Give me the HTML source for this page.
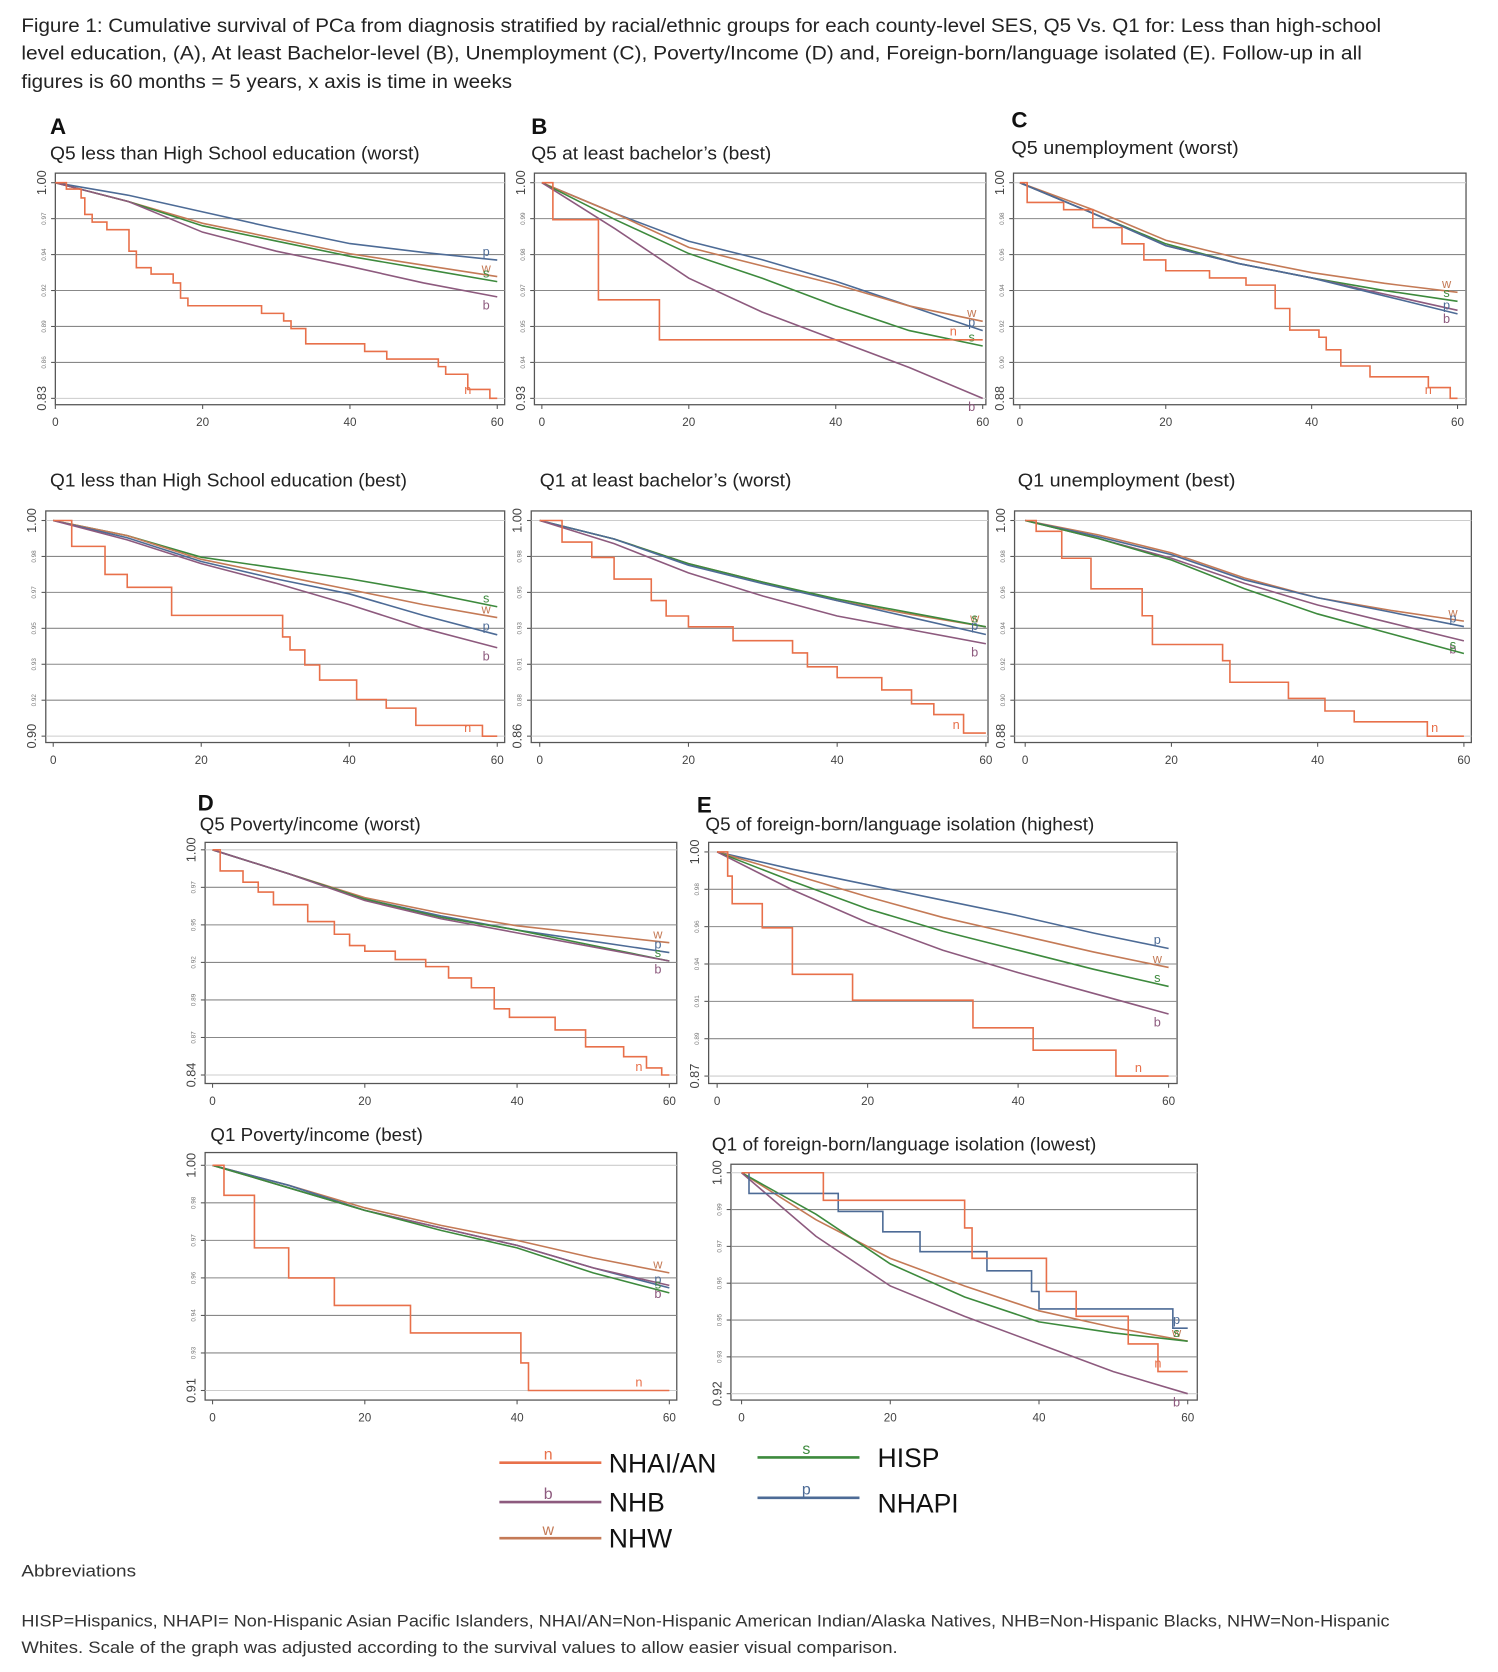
<!DOCTYPE html>
<html><head><meta charset="utf-8"><style>
html,body{margin:0;padding:0;background:#fff;}
svg{display:block;font-family:"Liberation Sans",sans-serif;}
</style></head><body>
<svg id="fig" width="1498" height="1672" viewBox="0 0 1410 1574" xmlns="http://www.w3.org/2000/svg">
<g fill="#222">
<text x="20" y="30" font-size="18" textLength="1280" lengthAdjust="spacingAndGlyphs">Figure 1: Cumulative survival of PCa from diagnosis stratified by racial/ethnic groups for each county-level SES, Q5 Vs. Q1 for: Less than high-school</text>
<text x="20" y="56" font-size="18" textLength="1262" lengthAdjust="spacingAndGlyphs">level education, (A), At least Bachelor-level (B), Unemployment (C), Poverty/Income (D) and, Foreign-born/language isolated (E). Follow-up in all</text>
<text x="20" y="83" font-size="18" textLength="462" lengthAdjust="spacingAndGlyphs">figures is 60 months = 5 years, x axis is time in weeks</text>
</g>
<g id="panels"></g>
<g id="legend"></g>
<g fill="#333">
<text x="20" y="1484" font-size="16" textLength="108" lengthAdjust="spacingAndGlyphs">Abbreviations</text>
<text x="20" y="1531" font-size="16" textLength="1288" lengthAdjust="spacingAndGlyphs">HISP=Hispanics, NHAPI= Non-Hispanic Asian Pacific Islanders, NHAI/AN=Non-Hispanic American Indian/Alaska Natives, NHB=Non-Hispanic Blacks, NHW=Non-Hispanic</text>
<text x="20" y="1556" font-size="16" textLength="825" lengthAdjust="spacingAndGlyphs">Whites. Scale of the graph was adjusted according to the survival values to allow easier visual comparison.</text>
</g>
</svg>
<script>
const WEEKS = [0,10,20,30,40,50,60];
const X_TICKS = [0,20,40,60];
// A1
const A1_p=[1,.99,.977,.964,.952,.945,.939], A1_w=[1,.985,.968,.956,.944,.935,.926], A1_s=[1,.985,.966,.954,.942,.932,.922], A1_b=[1,.985,.961,.946,.934,.921,.910];
const A1_nT=[0,1.5,3.5,4,5,7,10,11,13,16,17,18,28,31,32,34,42,45,52,53,56,59,60];
const A1_nV=[1,.995,.988,.975,.969,.963,.946,.933,.928,.921,.909,.903,.897,.891,.885,.873,.867,.861,.855,.849,.837,.83,.83];
// B1
const B1_p=[1,.99,.981,.975,.968,.960,.952], B1_w=[1,.99,.979,.973,.967,.960,.955], B1_s=[1,.988,.977,.969,.960,.952,.947], B1_b=[1,.985,.969,.958,.949,.940,.930];
const B1_nT=[0,1.5,7.7,16,60], B1_nV=[1,.988,.962,.949,.949];
// C1
const C1_w=[1,.985,.968,.958,.950,.944,.939], C1_s=[1,.983,.966,.955,.947,.940,.934], C1_b=[1,.983,.965,.955,.947,.938,.929], C1_p=[1,.983,.965,.955,.947,.937,.927];
const C1_nT=[0,1,6,10,14,17,20,26,31,35,37,41,42,44,48,56,59,60];
const C1_nV=[1,.989,.985,.975,.966,.957,.951,.947,.943,.930,.918,.914,.907,.898,.892,.886,.880,.880];
// A2
const A2_s=[1,.993,.983,.978,.973,.967,.960], A2_w=[1,.993,.982,.975,.968,.961,.955], A2_p=[1,.992,.981,.973,.966,.956,.947], A2_b=[1,.991,.980,.971,.961,.950,.941];
const A2_nT=[0,2.5,7,10,16,31,32,34,36,41,45,49,58,60];
const A2_nV=[1,.988,.975,.969,.956,.946,.940,.933,.926,.917,.913,.905,.900,.900];
// B2
const B2_w=[1,.988,.972,.960,.948,.939,.931], B2_s=[1,.988,.972,.960,.949,.940,.931], B2_p=[1,.988,.971,.959,.948,.937,.926], B2_b=[1,.985,.966,.951,.938,.929,.920];
const B2_nT=[0,3,7,10,15,17,20,26,34,36,40,46,50,53,57,60];
const B2_nV=[1,.986,.976,.962,.948,.938,.931,.922,.914,.905,.898,.890,.881,.874,.862,.862];
// C2
const C2_w=[1,.992,.982,.968,.957,.950,.944], C2_p=[1,.991,.981,.967,.957,.949,.941], C2_b=[1,.99,.979,.965,.953,.943,.933], C2_s=[1,.99,.978,.962,.948,.937,.926];
const C2_nT=[0,1.5,5,9,16,17.4,27,28,36,41,45,55,60];
const C2_nV=[1,.994,.979,.962,.947,.931,.922,.910,.901,.894,.888,.880,.880];
// D1
const D1_w=[1,.983,.966,.955,.946,.940,.934], D1_p=[1,.983,.965,.953,.943,.935,.927], D1_s=[1,.983,.965,.952,.943,.932,.921], D1_b=[1,.983,.964,.951,.941,.931,.921];
const D1_nT=[0,1,4,6,8,12.5,16,18,20,24,28,31,34,37,39,45,49,54,57,59,60];
const D1_nV=[1,.985,.977,.970,.961,.949,.940,.932,.928,.922,.917,.909,.902,.887,.881,.872,.860,.853,.845,.840,.840];
// E1
const E1_p=[1,.99,.981,.972,.963,.953,.944], E1_w=[1,.987,.974,.962,.952,.942,.933], E1_s=[1,.983,.967,.954,.943,.932,.922], E1_b=[1,.978,.959,.943,.930,.918,.906];
const E1_nT=[0,1.4,2,6,10,18,34,42,53,60], E1_nV=[1,.986,.970,.956,.929,.914,.898,.885,.870,.870];
// D2
const D2_w=[1,.992,.983,.976,.970,.963,.957], D2_p=[1,.992,.982,.975,.968,.959,.951], D2_b=[1,.991,.982,.975,.968,.959,.952], D2_s=[1,.991,.982,.974,.967,.957,.949];
const D2_nT=[0,1.5,5.5,10,16,26,40.5,41.5,60], D2_nV=[1,.988,.967,.955,.944,.933,.921,.910,.910];
// E2
const E2_w=[1,.983,.969,.959,.950,.944,.939], E2_s=[1,.985,.967,.955,.946,.942,.939], E2_b=[1,.977,.959,.948,.938,.928,.920];
const E2_pT=[0,1,13,19,24,33,39,40,58,60], E2_pV=[1,.9925,.986,.9786,.9714,.9645,.957,.9507,.9437,.9437];
const E2_nT=[0,11,30,31,41,45,52,56,60], E2_nV=[1,.990,.980,.969,.957,.948,.938,.928,.928];

const COLORS={n:'#e8704a',b:'#8d5a7e',w:'#c47a56',s:'#3d8a3d',p:'#4d6b96'};
const NS='http://www.w3.org/2000/svg';
function mk(tag,attrs,parent){const e=document.createElementNS(NS,tag);for(const k in attrs)e.setAttribute(k,attrs[k]);parent.appendChild(e);return e;}

const panels=[
 {id:'a1',letter:'A',lx:47,ly:126,title:'Q5 less than High School education (worst)',tx:47,ty:150,tw:348,box:[52,163,475,381],x0:52,x1:468,yt:172,yb:375,ymin:.83,
  series:[['p',A1_p],['w',A1_w],['s',A1_s],['b',A1_b],['n',A1_nV,A1_nT]]},
 {id:'b1',letter:'B',lx:500,ly:126,title:'Q5 at least bachelor’s (best)',tx:500,ty:150,tw:226,box:[503,163,928,381],x0:510,x1:925,yt:172,yb:375,ymin:.93,
  series:[['p',B1_p],['w',B1_w],['s',B1_s],['b',B1_b],['n',B1_nV,B1_nT]]},
 {id:'c1',letter:'C',lx:952,ly:120,title:'Q5 unemployment (worst)',tx:952,ty:145,tw:214,box:[954,163,1380,381],x0:960,x1:1372,yt:172,yb:375,ymin:.88,
  series:[['w',C1_w],['s',C1_s],['b',C1_b],['p',C1_p],['n',C1_nV,C1_nT]]},
 {id:'a2',title:'Q1 less than High School education (best)',tx:47,ty:458,tw:336,box:[43,481,475,699],x0:50,x1:468,yt:490,yb:693,ymin:.90,
  series:[['s',A2_s],['w',A2_w],['p',A2_p],['b',A2_b],['n',A2_nV,A2_nT]]},
 {id:'b2',title:'Q1 at least bachelor’s (worst)',tx:508,ty:458,tw:237,box:[500,481,930,699],x0:508,x1:928,yt:490,yb:693,ymin:.86,
  series:[['w',B2_w],['s',B2_s],['p',B2_p],['b',B2_b],['n',B2_nV,B2_nT]]},
 {id:'c2',title:'Q1 unemployment (best)',tx:958,ty:458,tw:205,box:[955,481,1385,699],x0:965,x1:1378,yt:490,yb:693,ymin:.88,
  series:[['w',C2_w],['p',C2_p],['b',C2_b],['s',C2_s],['n',C2_nV,C2_nT]]},
 {id:'d1',letter:'D',lx:186,ly:763,title:'Q5 Poverty/income (worst)',tx:188,ty:782,tw:208,box:[193,793,637,1020],x0:200,x1:630,yt:800,yb:1012,ymin:.84,
  series:[['w',D1_w],['p',D1_p],['s',D1_s],['b',D1_b],['n',D1_nV,D1_nT]]},
 {id:'e1',letter:'E',lx:656,ly:765,title:'Q5 of foreign-born/language isolation (highest)',tx:664,ty:782,tw:366,box:[667,793,1108,1020],x0:675,x1:1100,yt:802,yb:1013,ymin:.87,
  series:[['p',E1_p],['w',E1_w],['s',E1_s],['b',E1_b],['n',E1_nV,E1_nT]]},
 {id:'d2',title:'Q1 Poverty/income (best)',tx:198,ty:1074,tw:200,box:[193,1085,637,1318],x0:200,x1:630,yt:1097,yb:1309,ymin:.91,
  series:[['w',D2_w],['p',D2_p],['b',D2_b],['s',D2_s],['n',D2_nV,D2_nT]]},
 {id:'e2',title:'Q1 of foreign-born/language isolation (lowest)',tx:670,ty:1083,tw:362,box:[688,1096,1127,1318],x0:698,x1:1118,yt:1104,yb:1312,ymin:.92,
  series:[['w',E2_w],['s',E2_s],['b',E2_b],['p',E2_pV,E2_pT],['n',E2_nV,E2_nT]]}
];

const root=document.getElementById('panels');
panels.forEach(P=>{
  const g=mk('g',{},root);
  
  
  if(P.letter){const L=mk('text',{x:P.lx,y:P.ly,'font-size':21,'font-weight':'bold',fill:'#111'},g);L.textContent=P.letter;
    
    }
  const T=mk('text',{x:P.tx,y:P.ty,'font-size':17,fill:'#222',textLength:P.tw,lengthAdjust:'spacingAndGlyphs'},g);T.textContent=P.title;
  
  
  const [bx0,by0,bx1,by1]=P.box;
  const xs=t=>P.x0+(P.x1-P.x0)*t/60;
  const ys=v=>P.yt+(P.yb-P.yt)*(1-v)/(1-P.ymin);
  const frame=mk('rect',{x:bx0,y:by0,width:bx1-bx0,height:by1-by0,fill:'#fff',stroke:'#555','stroke-width':1.2},g);
  
  
  for(let i=0;i<7;i++){
    const v=1-(1-P.ymin)*i/6, y=ys(v);
    const gl=mk('line',{x1:bx0,x2:bx1,y1:y,y2:y,stroke:(i==0||i==6)?'#ccc':'#888','stroke-width':1},g);
    
    
    mk('line',{x1:bx0-4,x2:bx0,y1:y,y2:y,stroke:'#555'},g);
    const big=(i==0||i==6);
    const lt=mk('text',{x:bx0-9,y:y,'font-size':big?12:6,fill:big?'#444':'#777','text-anchor':'middle',transform:`rotate(-90 ${bx0-9} ${y})`},g);
    lt.textContent=v.toFixed(2);
    
    
  }
  X_TICKS.forEach(t=>{
    const x=xs(t);
    mk('line',{x1:x,x2:x,y1:by1,y2:by1+4,stroke:'#555'},g);
    const xt=mk('text',{x:x,y:by1+20,'font-size':11,fill:'#444','text-anchor':'middle'},g);xt.textContent=t;
    
    
  });
  P.series.forEach(([k,V,Tm])=>{
    let d='';
    if(Tm){
      d='M'+xs(Tm[0])+' '+ys(V[0]);
      for(let i=1;i<Tm.length;i++){d+=' H'+xs(Tm[i])+' V'+ys(V[i]);}
    } else {
      d=V.map((v,i)=>(i?'L':'M')+xs(WEEKS[i])+' '+ys(v)).join(' ');
    }
    const pth=mk('path',{d:d,fill:'none',stroke:COLORS[k],'stroke-width':1.5},g);
    
    
    const lv=V[V.length-1];
    const lab=mk('text',{x:xs(k=='n'?56:58.5),y:ys(lv)+(k=='b'?12:-4),'font-size':12,fill:COLORS[k],'text-anchor':'middle'},g);lab.textContent=k;
    
    
  });
});

const LEG=[['n','NHAI/AN',470,1377],['b','NHB',470,1414],['w','NHW',470,1448],['s','HISP',713,1372],['p','NHAPI',713,1410]];
const lg=document.getElementById('legend');
LEG.forEach(([k,name,x,y])=>{
  const e=mk('g',{},lg);
  
  
  mk('line',{x1:x,x2:x+96,y1:y,y2:y,stroke:COLORS[k],'stroke-width':2.5},e);
  const l=mk('text',{x:x+46,y:y-3,'font-size':15,fill:COLORS[k],'text-anchor':'middle'},e);l.textContent=k;
  const t=mk('text',{x:x+(k=='s'||k=='p'?113:103),y:y+(k=='p'?14:9),'font-size':25,fill:'#111'},e);t.textContent=name;
});
</script>
</body></html>
